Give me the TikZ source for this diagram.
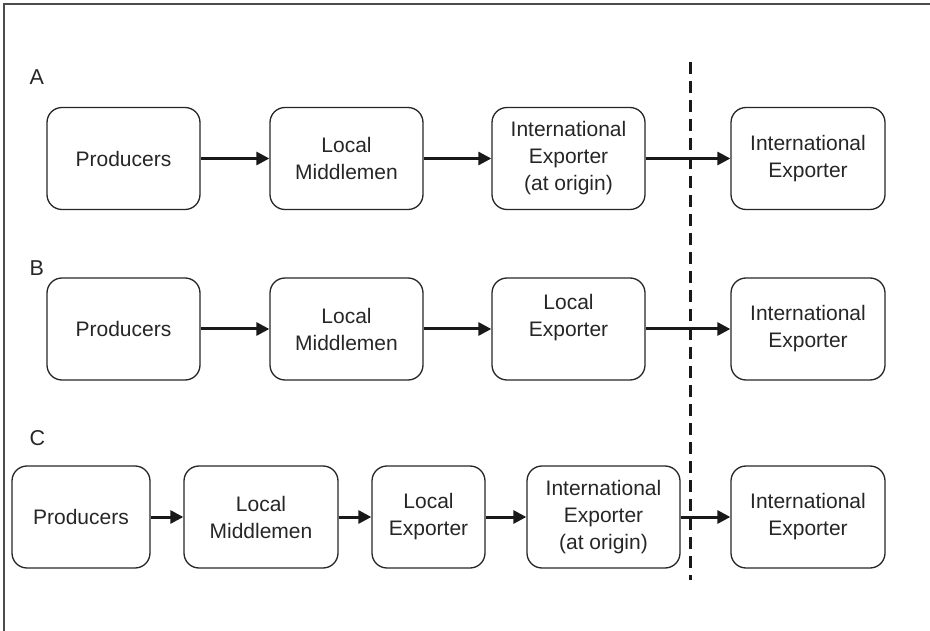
\documentclass[tikz,border=0pt]{standalone}
\usepackage{fontspec}
\setmainfont{Liberation Sans}
\usetikzlibrary{arrows.meta}
\begin{document}
\begin{tikzpicture}[x=1pt,y=-1pt,
  box/.style={draw=black!85, line width=1.3pt, rounded corners=15pt, inner sep=0pt,
    minimum height=102pt, align=center, font=\fontsize{21}{27}\selectfont, text=black!85},
  flow/.style={line width=3pt, draw=black!90, -{Triangle[length=13pt,width=13pt]}},
  lbl/.style={font=\fontsize{21.5}{24}\selectfont, text=black!85, anchor=base west}]
\useasboundingbox (0,0) rectangle (930,631);
\draw[line width=1.6pt, draw=black!70] (930,4) -- (4,4) -- (4,631);
% dashed border
\coordinate (dtop) at (690,62);
\coordinate (dbot) at (690,580);
\draw[line width=3pt, draw=black!90, dash pattern=on 12pt off 7pt] (dtop) -- (dbot);
% labels
\node[lbl] (la) at (26,85) {A};
\node[lbl] (lb) at (26,276) {B};
\node[lbl] (lc) at (26,445) {C};
% Row A
\node[box, minimum width=153pt] (a1) at (123.5,158.5) {Producers};
\node[box, minimum width=153pt] (a2) at (346.5,158.5) {Local\\Middlemen};
\node[box, minimum width=153pt] (a3) at (568.5,158.5) {International\\Exporter\\(at origin)};
\node[box, minimum width=154pt] (a4) at (808,158.5) {International\\Exporter};
% Row B
\node[box, minimum width=153pt] (b1) at (123.5,329) {Producers};
\node[box, minimum width=153pt] (b2) at (346.5,329) {Local\\Middlemen};
\node[box, minimum width=153pt] (b3) at (568.5,329) {Local\\Exporter\\\mbox{}};
\node[box, minimum width=154pt] (b4) at (808,329) {International\\Exporter};
% Row C
\node[box, minimum width=138pt] (c1) at (81,517) {Producers};
\node[box, minimum width=154pt] (c2) at (261,517) {Local\\Middlemen};
\node[box, minimum width=113pt] (c3) at (428.5,517) {Local\\Exporter};
\node[box, minimum width=153pt] (c4) at (603.5,517) {International\\Exporter\\(at origin)};
\node[box, minimum width=154pt] (c5) at (808,517) {International\\Exporter};
% arrows
\draw[flow] (a1) -- (a2);
\draw[flow] (a2) -- (a3);
\draw[flow] (a3) -- (a4);
\draw[flow] (b1) -- (b2);
\draw[flow] (b2) -- (b3.west |- b2);
\draw[flow] (b3.east |- b2) -- (b4);
\draw[flow] (c1) -- (c2);
\draw[flow] (c2) -- (c3);
\draw[flow] (c3) -- (c4);
\draw[flow] (c4) -- (c5);
\end{tikzpicture}
\end{document}
